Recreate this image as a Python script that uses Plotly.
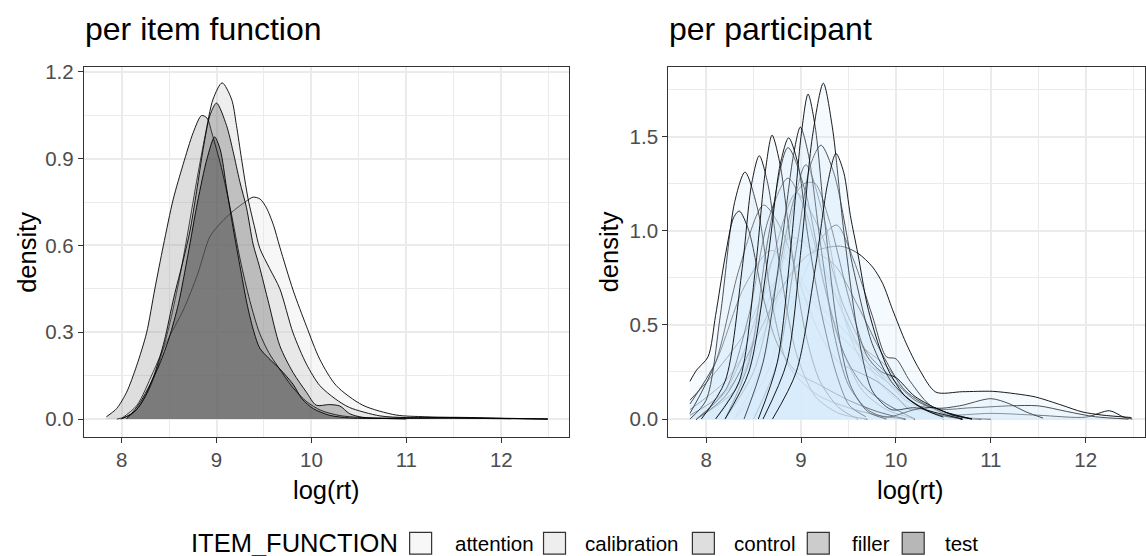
import plotly.graph_objects as go

# ---------------- data: left panel (density per item function) ----------------
ITEM_FUNCTIONS = ["attention", "calibration", "control", "filler", "test"]

ATTENTION_X = [7.99, 8.16, 8.33, 8.47, 8.65, 8.8, 8.93, 9.05, 9.175, 9.3, 9.386, 9.46, 9.526, 9.6, 9.667,
               9.806, 9.947, 10.087, 10.26, 10.54, 10.89, 11.2, 11.5, 11.8, 12.1]
ATTENTION_Y = [0.0, 0.047, 0.161, 0.264, 0.377, 0.5, 0.63, 0.68, 0.719, 0.75, 0.767, 0.76, 0.73, 0.67, 0.594,
               0.446, 0.321, 0.207, 0.116, 0.048, 0.014, 0.008, 0.005, 0.002, 0.001]

CALIBRATION_X = [7.95, 8.1, 8.2, 8.3, 8.4, 8.5, 8.6, 8.7, 8.8, 8.88, 8.964, 9.059, 9.158, 9.21, 9.263, 9.333,
                 9.403, 9.456, 9.56, 9.667, 9.806, 9.947, 10.087, 10.25, 10.4, 10.72, 11.0, 11.5, 12.0, 12.49]
CALIBRATION_Y = [0.0, 0.015, 0.05, 0.11, 0.2, 0.32, 0.47, 0.65, 0.84, 0.98, 1.106, 1.162, 1.106, 1.015, 0.9, 0.76,
                 0.66, 0.59, 0.52, 0.45, 0.298, 0.19, 0.116, 0.07, 0.04, 0.011, 0.005, 0.003, 0.002, 0.0]

CONTROL_X = [7.84, 7.947, 8.053, 8.158, 8.263, 8.35, 8.44, 8.544, 8.648, 8.754, 8.842, 8.9, 8.95, 9.05, 9.15,
             9.25, 9.35, 9.45, 9.55, 9.65, 9.8, 9.95, 10.1, 10.3, 10.6, 11.0]
CONTROL_Y = [0.008, 0.036, 0.093, 0.184, 0.298, 0.45, 0.6, 0.76, 0.88, 0.99, 1.049, 1.04, 0.99, 0.87, 0.72,
             0.55, 0.41, 0.3, 0.23, 0.18, 0.11, 0.06, 0.03, 0.012, 0.004, 0.0]

FILLER_X = [8.0, 8.15, 8.25, 8.35, 8.45, 8.55, 8.65, 8.72, 8.79, 8.86, 8.93, 9.0, 9.105, 9.175, 9.245, 9.316,
            9.385, 9.45, 9.55, 9.667, 9.806, 9.947, 10.05, 10.19, 10.3, 10.4, 10.54, 11.0, 11.5, 12.0, 12.49]
FILLER_Y = [0.0, 0.03, 0.08, 0.16, 0.27, 0.42, 0.55, 0.65, 0.787, 0.935, 1.049, 1.092, 1.015, 0.924, 0.821, 0.73,
            0.605, 0.53, 0.4, 0.253, 0.161, 0.093, 0.048, 0.05, 0.045, 0.019, 0.006, 0.004, 0.006, 0.003, 0.0]

TEST_X = [8.05, 8.12, 8.2, 8.3, 8.4, 8.5, 8.6, 8.7, 8.8, 8.9, 8.98, 9.04, 9.105, 9.175, 9.246, 9.32, 9.386,
          9.456, 9.55, 9.667, 9.807, 9.9, 10.02, 10.19, 10.4, 10.8, 11.5, 12.0, 12.49]
TEST_Y = [0.0, 0.025, 0.06, 0.12, 0.19, 0.28, 0.4, 0.57, 0.75, 0.9, 0.975, 0.93, 0.8, 0.66, 0.53, 0.4, 0.31,
          0.245, 0.21, 0.173, 0.12, 0.07, 0.036, 0.013, 0.004, 0.002, 0.004, 0.002, 0.0]

ITEM_X = [ATTENTION_X, CALIBRATION_X, CONTROL_X, FILLER_X, TEST_X]
ITEM_Y = [ATTENTION_Y, CALIBRATION_Y, CONTROL_Y, FILLER_Y, TEST_Y]

# ---------------- data: right panel (density per participant) ----------------
P01_X = [7.83, 8.2, 8.5, 8.75, 8.9, 9.1, 9.4, 9.7, 10.0, 10.3, 10.6, 10.9]
P01_Y = [0.05, 0.2, 0.42, 0.6, 0.648, 0.62, 0.5, 0.33, 0.15, 0.05, 0.01, 0.0]
P02_X = [7.83, 8.2, 8.5, 8.7, 8.9, 9.1, 9.3, 9.5, 9.7, 9.9, 10.2, 10.5, 11.0, 11.5, 12.0, 12.25, 12.4, 12.49]
P02_Y = [0.02, 0.15, 0.5, 0.85, 0.965, 0.9, 0.72, 0.5, 0.3, 0.15, 0.05, 0.02, 0.03, 0.02, 0.01, 0.044, 0.01, 0.0]
P03_X = [7.83, 8.1, 8.4, 8.68, 8.9, 9.1, 9.3, 9.5, 9.7, 9.9, 10.1, 10.4, 10.7]
P03_Y = [0.08, 0.3, 0.7, 0.895, 0.82, 0.65, 0.5, 0.4, 0.3, 0.2, 0.1, 0.03, 0.0]
P04_X = [8.3, 8.6, 8.9, 9.2, 9.376, 9.55, 9.75, 9.9, 10.0, 10.15, 10.4, 10.8, 11.2, 11.5, 11.8, 12.1, 12.45]
P04_Y = [0.0, 0.2, 0.6, 0.95, 1.03, 0.85, 0.55, 0.33, 0.32, 0.2, 0.06, 0.06, 0.07, 0.07, 0.04, 0.012, 0.0]
P05_X = [7.9, 8.3, 8.6, 8.9, 9.12, 9.35, 9.6, 9.85, 10.1, 10.4, 10.67, 11.0, 11.19, 11.37, 11.55]
P05_Y = [0.0, 0.15, 0.45, 0.78, 0.883, 0.82, 0.6, 0.35, 0.15, 0.06, 0.07, 0.108, 0.082, 0.038, 0.005]
P06_X = [8.1, 8.4, 8.7, 8.95, 9.2, 9.45, 9.7, 9.95, 10.2, 10.5, 10.8]
P06_Y = [0.0, 0.25, 0.85, 1.2, 1.0, 0.6, 0.35, 0.22, 0.1, 0.04, 0.0]
P07_X = [7.83, 8.1, 8.35, 8.606, 8.8, 9.0, 9.2, 9.4, 9.6, 9.8, 10.0, 10.15, 10.32, 10.5, 10.7]
P07_Y = [0.03, 0.3, 0.8, 1.136, 1.0, 0.7, 0.45, 0.3, 0.25, 0.2, 0.12, 0.05, 0.07, 0.03, 0.0]
P08_X = [7.9, 8.2, 8.45, 8.65, 8.862, 9.05, 9.25, 9.45, 9.65, 9.9, 10.2]
P08_Y = [0.0, 0.15, 0.55, 1.05, 1.279, 1.1, 0.7, 0.35, 0.15, 0.05, 0.0]
P09_X = [7.9, 8.2, 8.5, 8.8, 9.1, 9.413, 9.6, 9.754, 9.86, 9.965, 10.105, 10.245, 10.42, 10.7, 11.02, 11.26,
         11.47, 11.75, 11.96, 12.17, 12.48]
P09_Y = [0.0, 0.12, 0.4, 0.7, 0.88, 0.918, 0.88, 0.807, 0.72, 0.58, 0.405, 0.265, 0.143, 0.145, 0.147, 0.134,
         0.117, 0.073, 0.038, 0.021, 0.008]
P10_X = [8.2, 8.5, 8.75, 8.95, 9.05, 9.15, 9.3, 9.5, 9.7, 9.85, 10.0, 10.2, 10.5, 10.8]
P10_Y = [0.0, 0.25, 0.75, 1.2, 1.254, 1.25, 1.05, 0.65, 0.33, 0.25, 0.22, 0.12, 0.04, 0.0]
P11_X = [8.2, 8.45, 8.65, 8.862, 9.05, 9.25, 9.45, 9.65, 9.9, 10.2]
P11_Y = [0.0, 0.3, 0.95, 1.441, 1.2, 0.7, 0.35, 0.18, 0.08, 0.0]
P12_X = [8.5, 8.75, 8.95, 9.1, 9.21, 9.35, 9.55, 9.75, 9.95, 10.15, 10.4, 10.7]
P12_Y = [0.0, 0.3, 0.9, 1.35, 1.454, 1.3, 0.8, 0.4, 0.2, 0.1, 0.03, 0.0]
P13_X = [7.83, 8.0, 8.15, 8.3, 8.41, 8.55, 8.7, 8.85, 9.0, 9.2, 9.5, 9.8, 10.1]
P13_Y = [0.0, 0.1, 0.55, 1.15, 1.311, 1.1, 0.6, 0.3, 0.2, 0.12, 0.06, 0.02, 0.0]
P14_X = [7.83, 7.9, 8.02, 8.1, 8.2, 8.29, 8.35, 8.45, 8.6, 8.75, 8.95, 9.2, 9.5, 9.8, 10.1]
P14_Y = [0.2, 0.26, 0.33, 0.55, 0.86, 1.07, 1.104, 1.0, 0.65, 0.4, 0.25, 0.18, 0.1, 0.04, 0.0]
P15_X = [7.95, 8.2, 8.38, 8.48, 8.56, 8.65, 8.78, 8.95, 9.15, 9.4, 9.7]
P15_Y = [0.0, 0.2, 0.8, 1.25, 1.398, 1.25, 0.8, 0.35, 0.12, 0.03, 0.0]
P16_X = [8.1, 8.35, 8.52, 8.62, 8.695, 8.78, 8.9, 9.05, 9.2, 9.4, 9.6]
P16_Y = [0.0, 0.2, 0.8, 1.3, 1.507, 1.35, 0.9, 0.45, 0.2, 0.06, 0.0]
P17_X = [8.4, 8.6, 8.8, 8.92, 8.993, 9.08, 9.2, 9.35, 9.5, 9.7, 9.9, 10.2, 10.4, 10.6, 10.8]
P17_Y = [0.0, 0.3, 0.95, 1.4, 1.55, 1.4, 0.95, 0.45, 0.18, 0.05, 0.01, 0.05, 0.06, 0.02, 0.0]
P18_X = [8.2, 8.45, 8.65, 8.78, 8.87, 8.97, 9.07, 9.2, 9.368, 9.508, 9.684]
P18_Y = [0.0, 0.25, 0.85, 1.35, 1.493, 1.35, 0.98, 0.6, 0.248, 0.073, 0.012]
P19_X = [8.55, 8.75, 8.9, 9.0, 9.074, 9.15, 9.25, 9.38, 9.52, 9.7, 9.9]
P19_Y = [0.0, 0.3, 0.95, 1.5, 1.725, 1.55, 1.05, 0.5, 0.18, 0.04, 0.0]
P20_X = [8.6, 8.85, 9.0, 9.12, 9.235, 9.33, 9.45, 9.6, 9.75, 9.95, 10.2, 10.45, 10.7]
P20_Y = [0.0, 0.3, 0.9, 1.5, 1.783, 1.55, 1.0, 0.45, 0.15, 0.05, 0.06, 0.03, 0.0]
P21_X = [8.7, 8.95, 9.15, 9.28, 9.368, 9.45, 9.52, 9.6, 9.7, 9.82, 9.93, 10.1, 10.3, 10.5]
P21_Y = [0.0, 0.25, 0.8, 1.25, 1.41, 1.31, 1.08, 0.875, 0.6, 0.39, 0.25, 0.12, 0.05, 0.01]
P22_X = [7.9, 8.3, 8.6, 8.85, 9.0, 9.2, 9.45, 9.7, 9.9, 10.1, 10.4, 10.7]
P22_Y = [0.0, 0.2, 0.55, 0.88, 0.95, 0.85, 0.55, 0.3, 0.22, 0.12, 0.03, 0.0]
P23_X = [8.3, 8.6, 8.85, 9.05, 9.25, 9.45, 9.65, 9.9, 10.2, 10.5]
P23_Y = [0.0, 0.3, 0.95, 1.35, 1.05, 0.55, 0.3, 0.2, 0.08, 0.0]
P24_X = [7.83, 8.1, 8.4, 8.6, 8.8, 9.0, 9.3, 9.6, 9.9, 10.1, 10.4, 10.7, 11.0]
P24_Y = [0.1, 0.25, 0.45, 0.65, 0.75, 0.72, 0.55, 0.4, 0.28, 0.15, 0.05, 0.01, 0.0]

PART_X = [P01_X, P24_X, P22_X, P02_X, P03_X, P23_X, P04_X, P05_X, P06_X, P07_X, P08_X, P09_X, P10_X, P11_X,
          P12_X, P13_X, P14_X, P15_X, P16_X, P17_X, P18_X, P19_X, P20_X, P21_X]
PART_Y = [P01_Y, P24_Y, P22_Y, P02_Y, P03_Y, P23_Y, P04_Y, P05_Y, P06_Y, P07_Y, P08_Y, P09_Y, P10_Y, P11_Y,
          P12_Y, P13_Y, P14_Y, P15_Y, P16_Y, P17_Y, P18_Y, P19_Y, P20_Y, P21_Y]

X_TICKS = [8, 9, 10, 11, 12]
LEFT_Y_TICKS = [0.0, 0.3, 0.6, 0.9, 1.2]
RIGHT_Y_TICKS = [0.0, 0.5, 1.0, 1.5]
LEGEND_TITLE = "ITEM_FUNCTION"

# ---------------- styles ----------------
ITEM_FILL = {
    "attention": "rgba(228,228,228,0.3)",
    "calibration": "rgba(198,198,198,0.3)",
    "control": "rgba(145,145,145,0.3)",
    "filler": "rgba(85,85,85,0.3)",
    "test": "rgba(15,15,15,0.3)",
}
PART_FILL = "rgba(214,235,252,0.25)"
FONT = "Liberation Sans, Arial, sans-serif"
W, H = 1146, 556
KEY_LEFT = [410, 544, 693, 808, 903]
LABEL_LEFT = [453, 584, 733, 851, 944]
KEY_SIZE = 22
LEGEND_CY = 543


def px_x(p):
    return p / W


def px_y(p):
    return 1 - p / H


fig = go.Figure()

for name, xs, ys in zip(ITEM_FUNCTIONS, ITEM_X, ITEM_Y):
    fig.add_trace(go.Scatter(
        x=xs, y=ys, mode="lines", fill="tozeroy", fillcolor=ITEM_FILL[name],
        line=dict(color="black", width=0.9, shape="spline", smoothing=0.8),
        name=name, showlegend=False, hoverinfo="skip", xaxis="x", yaxis="y"))

for xs, ys in zip(PART_X, PART_Y):
    fig.add_trace(go.Scatter(
        x=xs, y=ys, mode="lines", fill="tozeroy", fillcolor=PART_FILL,
        line=dict(color="black", width=0.9, shape="spline", smoothing=0.8),
        showlegend=False, hoverinfo="skip", xaxis="x2", yaxis="y2"))

GRID = "#EBEBEB"
common_x = dict(
    tickmode="array", tickvals=X_TICKS, ticktext=[str(t) for t in X_TICKS],
    showgrid=True, gridcolor=GRID, gridwidth=1.6,
    minor=dict(tickmode="array", tickvals=[7.5, 8.5, 9.5, 10.5, 11.5, 12.5], showgrid=True,
               gridcolor=GRID, gridwidth=0.8, ticks=""),
    ticks="outside", ticklen=5, tickwidth=1.3, tickcolor="#333333",
    tickfont=dict(family=FONT, size=20.5, color="#4D4D4D"),
    showline=True, linecolor="#333333", linewidth=1.4, mirror=True, zeroline=False,
)
common_y = dict(
    showgrid=True, gridcolor=GRID, gridwidth=1.6,
    ticks="outside", ticklen=5, tickwidth=1.3, tickcolor="#333333",
    tickfont=dict(family=FONT, size=20.5, color="#4D4D4D"),
    showline=True, linecolor="#333333", linewidth=1.4, mirror=True, zeroline=False,
    tickformat=".1f",
)

y_dom = [px_y(435), px_y(61)]
fig.update_layout(
    width=W, height=H, autosize=False,
    margin=dict(l=0, r=0, t=0, b=0),
    paper_bgcolor="white", plot_bgcolor="white",
    font=dict(family=FONT, color="black"),
    xaxis=dict(domain=[px_x(84), px_x(569)], range=[7.603, 12.708], anchor="y", **common_x),
    yaxis=dict(domain=y_dom, range=[-0.0604, 1.216], anchor="x",
               tickmode="array", tickvals=LEFT_Y_TICKS,
               minor=dict(tickmode="array", tickvals=[0.15, 0.45, 0.75, 1.05], showgrid=True,
                          gridcolor=GRID, gridwidth=0.8, ticks=""),
               **common_y),
    xaxis2=dict(domain=[px_x(669), 1.0], range=[7.603, 12.624], anchor="y2", **common_x),
    yaxis2=dict(domain=y_dom, range=[-0.093, 1.868], anchor="x2",
                tickmode="array", tickvals=RIGHT_Y_TICKS,
                minor=dict(tickmode="array", tickvals=[0.25, 0.75, 1.25, 1.75], showgrid=True,
                           gridcolor=GRID, gridwidth=0.8, ticks=""),
                **common_y),
    showlegend=False,
)

annos = [
    dict(text="per item function", x=px_x(83), y=px_y(22), xanchor="left", yanchor="middle",
         font=dict(size=32)),
    dict(text="per participant", x=px_x(668), y=px_y(22), xanchor="left", yanchor="middle",
         font=dict(size=32)),
    dict(text="log(rt)", x=px_x(326.5), y=px_y(489), xanchor="center", yanchor="middle",
         font=dict(size=25.5)),
    dict(text="log(rt)", x=px_x(911.5), y=px_y(489), xanchor="center", yanchor="middle",
         font=dict(size=25.5)),
    dict(text="density", x=px_x(27), y=px_y(248), xanchor="center", yanchor="middle",
         textangle=-90, font=dict(size=25.5)),
    dict(text="density", x=px_x(609), y=px_y(248), xanchor="center", yanchor="middle",
         textangle=-90, font=dict(size=25.5)),
    dict(text=LEGEND_TITLE, x=px_x(189), y=px_y(LEGEND_CY), xanchor="left", yanchor="middle",
         font=dict(size=25.5)),
]
shapes = []
for name, kx, lx in zip(ITEM_FUNCTIONS, KEY_LEFT, LABEL_LEFT):
    shapes.append(dict(type="rect", xref="paper", yref="paper",
                       x0=px_x(kx), x1=px_x(kx + KEY_SIZE),
                       y0=px_y(LEGEND_CY + KEY_SIZE / 2), y1=px_y(LEGEND_CY - KEY_SIZE / 2),
                       fillcolor=ITEM_FILL[name], line=dict(color="#333333", width=1.2)))
    annos.append(dict(text=name, x=px_x(lx), y=px_y(LEGEND_CY), xanchor="left", yanchor="middle",
                      font=dict(size=20.5)))
for a in annos:
    a.update(xref="paper", yref="paper", showarrow=False)
    a["font"].update(family=FONT, color="black")
fig.update_layout(annotations=annos, shapes=shapes)

fig.write_html("out.html", config={"displayModeBar": False},
               post_script="document.body.style.margin='0';document.body.style.overflow='hidden';")
